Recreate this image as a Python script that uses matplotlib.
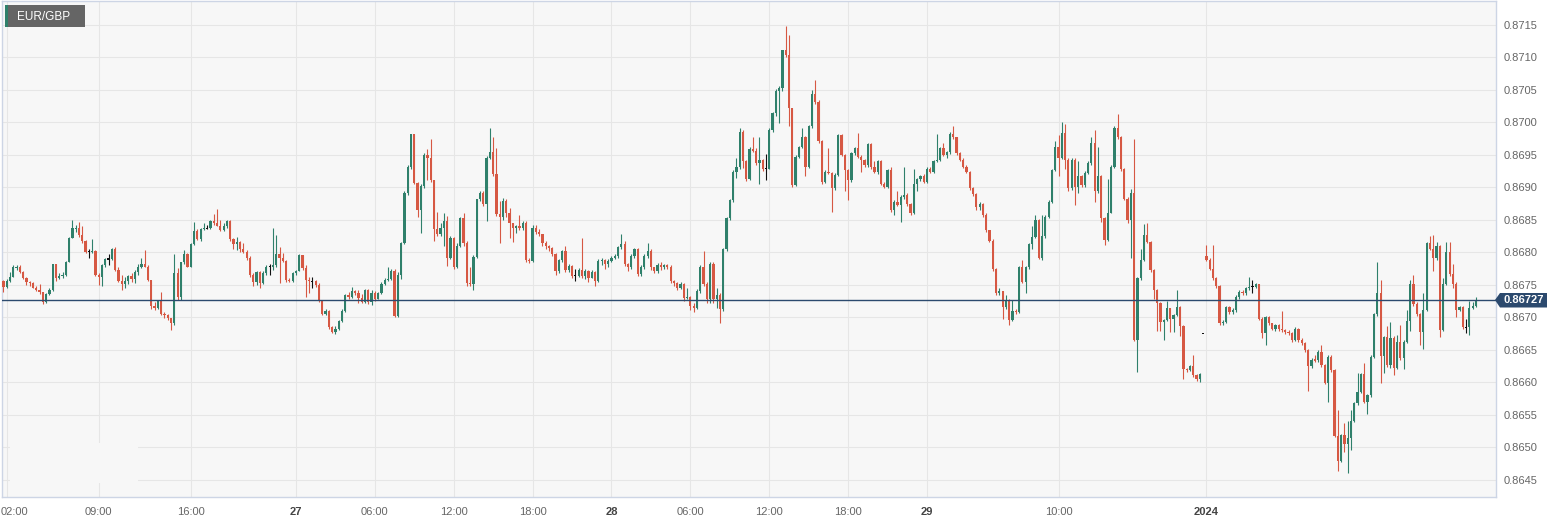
import matplotlib
matplotlib.use("Agg")
import matplotlib.pyplot as plt
from matplotlib.patches import Rectangle, Polygon
import numpy as np

plt.rcParams['font.family'] = ['Liberation Sans', 'DejaVu Sans']

symbol = "EUR/GBP"
last_price = 0.86727
first_open = 0.86756
session_opens = {365: 0.86676, 366: 0.86795}

closes = [
0.86747, 0.86756, 0.86763, 0.86777, 0.86778, 0.86770, 0.86761, 0.86754, 0.86753, 0.86746,
0.86742, 0.86739, 0.86724, 0.86736, 0.86742, 0.86782, 0.86760, 0.86764, 0.86766, 0.86786,
0.86823, 0.86837, 0.86838, 0.86827, 0.86817, 0.86801, 0.86801, 0.86802, 0.86765, 0.86763,
0.86780, 0.86790, 0.86790, 0.86806, 0.86773, 0.86756, 0.86751, 0.86756, 0.86764, 0.86759,
0.86770, 0.86778, 0.86782, 0.86778, 0.86758, 0.86717, 0.86714, 0.86725, 0.86706, 0.86704,
0.86699, 0.86691, 0.86769, 0.86732, 0.86785, 0.86797, 0.86778, 0.86813, 0.86833, 0.86821,
0.86836, 0.86837, 0.86837, 0.86849, 0.86845, 0.86841, 0.86835, 0.86840, 0.86849, 0.86821,
0.86813, 0.86816, 0.86806, 0.86801, 0.86791, 0.86765, 0.86755, 0.86770, 0.86753, 0.86768,
0.86778, 0.86778, 0.86781, 0.86797, 0.86791, 0.86787, 0.86758, 0.86756, 0.86768, 0.86772,
0.86796, 0.86776, 0.86758, 0.86756, 0.86756, 0.86750, 0.86727, 0.86706, 0.86710, 0.86686,
0.86678, 0.86682, 0.86694, 0.86710, 0.86734, 0.86732, 0.86740, 0.86737, 0.86730, 0.86724,
0.86742, 0.86724, 0.86737, 0.86728, 0.86737, 0.86751, 0.86757, 0.86759, 0.86772, 0.86702,
0.86765, 0.86815, 0.86892, 0.86932, 0.86982, 0.86907, 0.86865, 0.86903, 0.86950, 0.86946,
0.86911, 0.86836, 0.86828, 0.86838, 0.86848, 0.86792, 0.86822, 0.86778, 0.86810, 0.86853,
0.86814, 0.86753, 0.86751, 0.86793, 0.86882, 0.86892, 0.86874, 0.86946, 0.86955, 0.86920,
0.86859, 0.86854, 0.86879, 0.86861, 0.86846, 0.86838, 0.86841, 0.86838, 0.86846, 0.86789,
0.86787, 0.86838, 0.86831, 0.86828, 0.86815, 0.86810, 0.86807, 0.86797, 0.86772, 0.86788,
0.86802, 0.86773, 0.86779, 0.86764, 0.86764, 0.86773, 0.86764, 0.86772, 0.86761, 0.86770,
0.86756, 0.86787, 0.86788, 0.86782, 0.86787, 0.86792, 0.86795, 0.86808, 0.86813, 0.86782,
0.86777, 0.86795, 0.86805, 0.86767, 0.86777, 0.86795, 0.86802, 0.86777, 0.86772, 0.86781,
0.86777, 0.86781, 0.86778, 0.86756, 0.86753, 0.86746, 0.86751, 0.86730, 0.86731, 0.86718,
0.86715, 0.86741, 0.86778, 0.86751, 0.86728, 0.86783, 0.86728, 0.86735, 0.86713, 0.86805,
0.86853, 0.86880, 0.86924, 0.86931, 0.86986, 0.86941, 0.86913, 0.86959, 0.86956, 0.86937,
0.86942, 0.86929, 0.86929, 0.86989, 0.87014, 0.87049, 0.87053, 0.87111, 0.87104, 0.87023,
0.86904, 0.86947, 0.86962, 0.86978, 0.86932, 0.86994, 0.87044, 0.87032, 0.86971, 0.86909,
0.86924, 0.86922, 0.86899, 0.86919, 0.86981, 0.86950, 0.86927, 0.86912, 0.86953, 0.86960,
0.86947, 0.86942, 0.86935, 0.86967, 0.86932, 0.86924, 0.86940, 0.86906, 0.86901, 0.86927,
0.86865, 0.86878, 0.86873, 0.86886, 0.86889, 0.86875, 0.86860, 0.86906, 0.86913, 0.86917,
0.86909, 0.86929, 0.86924, 0.86940, 0.86943, 0.86960, 0.86950, 0.86954, 0.86983, 0.86977,
0.86953, 0.86943, 0.86932, 0.86924, 0.86899, 0.86890, 0.86870, 0.86875, 0.86858, 0.86834,
0.86818, 0.86774, 0.86737, 0.86740, 0.86716, 0.86727, 0.86696, 0.86710, 0.86709, 0.86777,
0.86755, 0.86777, 0.86813, 0.86824, 0.86850, 0.86792, 0.86825, 0.86855, 0.86878, 0.86927,
0.86963, 0.86946, 0.86984, 0.86943, 0.86899, 0.86943, 0.86901, 0.86917, 0.86904, 0.86923,
0.86937, 0.86968, 0.86894, 0.86917, 0.86853, 0.86819, 0.86861, 0.86932, 0.86991, 0.86978,
0.86928, 0.86883, 0.86850, 0.86891, 0.86666, 0.86760, 0.86789, 0.86827, 0.86816, 0.86773,
0.86742, 0.86723, 0.86693, 0.86696, 0.86714, 0.86698, 0.86704, 0.86716, 0.86687, 0.86621,
0.86619, 0.86625, 0.86611, 0.86606, 0.86613, 0.86676, 0.86789, 0.86775, 0.86760, 0.86749,
0.86692, 0.86693, 0.86716, 0.86709, 0.86712, 0.86732, 0.86739, 0.86738, 0.86745, 0.86747,
0.86747, 0.86751, 0.86698, 0.86676, 0.86700, 0.86691, 0.86683, 0.86688, 0.86683, 0.86680,
0.86678, 0.86676, 0.86666, 0.86683, 0.86666, 0.86660, 0.86650, 0.86625, 0.86635, 0.86634,
0.86647, 0.86627, 0.86599, 0.86639, 0.86619, 0.86517, 0.86479, 0.86519, 0.86506, 0.86514,
0.86541, 0.86568, 0.86586, 0.86613, 0.86570, 0.86580, 0.86639, 0.86705, 0.86738, 0.86640,
0.86670, 0.86627, 0.86668, 0.86623, 0.86662, 0.86637, 0.86662, 0.86695, 0.86752, 0.86720,
0.86705, 0.86678, 0.86712, 0.86814, 0.86806, 0.86791, 0.86810, 0.86681, 0.86752, 0.86801,
0.86767, 0.86752, 0.86712, 0.86716, 0.86685, 0.86685, 0.86715, 0.86717, 0.86727,
]

highs = [
0.86758, 0.86759, 0.86770, 0.86780, 0.86781, 0.86780, 0.86772, 0.86763, 0.86756, 0.86754,
0.86749, 0.86751, 0.86739, 0.86737, 0.86745, 0.86783, 0.86783, 0.86768, 0.86770, 0.86787,
0.86824, 0.86850, 0.86842, 0.86847, 0.86840, 0.86819, 0.86806, 0.86820, 0.86804, 0.86768,
0.86782, 0.86792, 0.86797, 0.86807, 0.86809, 0.86778, 0.86765, 0.86763, 0.86765, 0.86768,
0.86773, 0.86782, 0.86791, 0.86804, 0.86780, 0.86758, 0.86724, 0.86727, 0.86739, 0.86709,
0.86706, 0.86699, 0.86797, 0.86776, 0.86786, 0.86804, 0.86799, 0.86814, 0.86847, 0.86836,
0.86838, 0.86846, 0.86842, 0.86850, 0.86859, 0.86867, 0.86850, 0.86845, 0.86850, 0.86850,
0.86822, 0.86824, 0.86818, 0.86814, 0.86804, 0.86794, 0.86768, 0.86771, 0.86771, 0.86771,
0.86781, 0.86783, 0.86837, 0.86827, 0.86809, 0.86799, 0.86789, 0.86760, 0.86770, 0.86773,
0.86797, 0.86796, 0.86780, 0.86763, 0.86763, 0.86758, 0.86753, 0.86727, 0.86713, 0.86712,
0.86687, 0.86687, 0.86696, 0.86713, 0.86736, 0.86739, 0.86747, 0.86742, 0.86742, 0.86736,
0.86744, 0.86744, 0.86742, 0.86740, 0.86739, 0.86754, 0.86761, 0.86777, 0.86774, 0.86775,
0.86770, 0.86816, 0.86895, 0.86934, 0.86983, 0.86983, 0.86909, 0.86905, 0.86953, 0.86959,
0.86974, 0.86912, 0.86863, 0.86846, 0.86861, 0.86856, 0.86825, 0.86824, 0.86814, 0.86855,
0.86860, 0.86817, 0.86777, 0.86796, 0.86883, 0.86895, 0.86894, 0.86948, 0.86991, 0.86977,
0.86960, 0.86879, 0.86884, 0.86882, 0.86869, 0.86846, 0.86843, 0.86857, 0.86848, 0.86848,
0.86792, 0.86843, 0.86843, 0.86836, 0.86829, 0.86818, 0.86812, 0.86809, 0.86799, 0.86790,
0.86804, 0.86810, 0.86782, 0.86780, 0.86774, 0.86776, 0.86822, 0.86774, 0.86773, 0.86773,
0.86772, 0.86790, 0.86792, 0.86790, 0.86790, 0.86795, 0.86798, 0.86810, 0.86828, 0.86818,
0.86784, 0.86797, 0.86807, 0.86807, 0.86780, 0.86797, 0.86815, 0.86805, 0.86778, 0.86784,
0.86786, 0.86783, 0.86782, 0.86780, 0.86758, 0.86754, 0.86754, 0.86753, 0.86745, 0.86733,
0.86722, 0.86744, 0.86780, 0.86802, 0.86754, 0.86786, 0.86785, 0.86746, 0.86738, 0.86807,
0.86855, 0.86883, 0.86927, 0.86946, 0.86992, 0.86988, 0.86943, 0.86962, 0.86978, 0.86960,
0.86978, 0.86944, 0.86952, 0.86991, 0.87016, 0.87051, 0.87056, 0.87112, 0.87149, 0.87135,
0.87023, 0.86950, 0.86964, 0.86991, 0.86979, 0.86996, 0.87050, 0.87066, 0.87034, 0.86973,
0.86927, 0.86960, 0.86924, 0.86922, 0.86983, 0.86983, 0.86952, 0.86929, 0.86955, 0.86963,
0.86984, 0.86950, 0.86944, 0.86969, 0.86969, 0.86940, 0.86943, 0.86942, 0.86908, 0.86929,
0.86932, 0.86881, 0.86894, 0.86888, 0.86932, 0.86891, 0.86876, 0.86929, 0.86915, 0.86919,
0.86920, 0.86931, 0.86932, 0.86942, 0.86983, 0.86963, 0.86969, 0.86956, 0.86985, 0.86994,
0.86978, 0.86954, 0.86945, 0.86934, 0.86926, 0.86900, 0.86892, 0.86877, 0.86876, 0.86860,
0.86835, 0.86820, 0.86776, 0.86745, 0.86741, 0.86734, 0.86729, 0.86727, 0.86713, 0.86779,
0.86789, 0.86779, 0.86815, 0.86840, 0.86858, 0.86851, 0.86858, 0.86858, 0.86880, 0.86929,
0.86971, 0.86981, 0.87000, 0.86997, 0.86945, 0.86946, 0.86945, 0.86940, 0.86919, 0.86925,
0.86940, 0.86978, 0.86989, 0.86963, 0.86919, 0.86854, 0.86913, 0.86934, 0.86994, 0.87013,
0.86979, 0.86930, 0.86885, 0.86898, 0.86974, 0.86762, 0.86805, 0.86844, 0.86845, 0.86818,
0.86774, 0.86744, 0.86724, 0.86698, 0.86725, 0.86715, 0.86705, 0.86743, 0.86718, 0.86688,
0.86623, 0.86627, 0.86642, 0.86613, 0.86615, 0.86676, 0.86811, 0.86791, 0.86811, 0.86763,
0.86750, 0.86696, 0.86718, 0.86718, 0.86714, 0.86734, 0.86742, 0.86742, 0.86747, 0.86763,
0.86758, 0.86753, 0.86752, 0.86700, 0.86702, 0.86702, 0.86692, 0.86690, 0.86690, 0.86710,
0.86682, 0.86680, 0.86678, 0.86685, 0.86684, 0.86668, 0.86662, 0.86652, 0.86638, 0.86642,
0.86650, 0.86657, 0.86628, 0.86642, 0.86642, 0.86620, 0.86558, 0.86521, 0.86537, 0.86541,
0.86558, 0.86570, 0.86614, 0.86615, 0.86630, 0.86583, 0.86642, 0.86707, 0.86786, 0.86757,
0.86672, 0.86687, 0.86693, 0.86671, 0.86673, 0.86688, 0.86665, 0.86712, 0.86758, 0.86765,
0.86724, 0.86707, 0.86738, 0.86816, 0.86825, 0.86827, 0.86816, 0.86811, 0.86760, 0.86816,
0.86816, 0.86782, 0.86754, 0.86718, 0.86718, 0.86697, 0.86726, 0.86724, 0.86731,
]

lows = [
0.86739, 0.86746, 0.86755, 0.86762, 0.86773, 0.86768, 0.86759, 0.86750, 0.86749, 0.86745,
0.86740, 0.86736, 0.86721, 0.86723, 0.86735, 0.86741, 0.86756, 0.86759, 0.86761, 0.86764,
0.86785, 0.86823, 0.86832, 0.86824, 0.86814, 0.86799, 0.86791, 0.86799, 0.86764, 0.86750,
0.86749, 0.86778, 0.86781, 0.86788, 0.86772, 0.86754, 0.86742, 0.86745, 0.86751, 0.86755,
0.86753, 0.86766, 0.86776, 0.86777, 0.86756, 0.86713, 0.86712, 0.86713, 0.86704, 0.86699,
0.86696, 0.86681, 0.86689, 0.86727, 0.86727, 0.86783, 0.86777, 0.86777, 0.86812, 0.86819,
0.86817, 0.86835, 0.86836, 0.86836, 0.86843, 0.86840, 0.86833, 0.86833, 0.86837, 0.86818,
0.86805, 0.86804, 0.86801, 0.86799, 0.86788, 0.86763, 0.86749, 0.86750, 0.86746, 0.86751,
0.86765, 0.86765, 0.86773, 0.86777, 0.86753, 0.86785, 0.86754, 0.86754, 0.86755, 0.86766,
0.86771, 0.86773, 0.86732, 0.86737, 0.86746, 0.86747, 0.86724, 0.86704, 0.86704, 0.86683,
0.86676, 0.86674, 0.86681, 0.86693, 0.86709, 0.86729, 0.86730, 0.86735, 0.86723, 0.86722,
0.86722, 0.86720, 0.86719, 0.86725, 0.86728, 0.86736, 0.86750, 0.86756, 0.86758, 0.86700,
0.86700, 0.86759, 0.86813, 0.86889, 0.86929, 0.86905, 0.86854, 0.86830, 0.86899, 0.86912,
0.86908, 0.86818, 0.86825, 0.86825, 0.86810, 0.86779, 0.86790, 0.86775, 0.86776, 0.86808,
0.86810, 0.86749, 0.86748, 0.86742, 0.86791, 0.86879, 0.86872, 0.86848, 0.86944, 0.86918,
0.86856, 0.86815, 0.86850, 0.86854, 0.86822, 0.86816, 0.86830, 0.86835, 0.86835, 0.86786,
0.86784, 0.86785, 0.86828, 0.86825, 0.86810, 0.86805, 0.86802, 0.86794, 0.86766, 0.86769,
0.86785, 0.86770, 0.86770, 0.86760, 0.86756, 0.86763, 0.86761, 0.86759, 0.86754, 0.86760,
0.86749, 0.86754, 0.86780, 0.86774, 0.86778, 0.86785, 0.86790, 0.86792, 0.86805, 0.86779,
0.86772, 0.86775, 0.86792, 0.86764, 0.86764, 0.86774, 0.86792, 0.86773, 0.86768, 0.86769,
0.86773, 0.86774, 0.86775, 0.86753, 0.86749, 0.86743, 0.86744, 0.86725, 0.86728, 0.86712,
0.86708, 0.86713, 0.86738, 0.86748, 0.86722, 0.86723, 0.86722, 0.86715, 0.86692, 0.86710,
0.86802, 0.86850, 0.86878, 0.86915, 0.86928, 0.86930, 0.86910, 0.86911, 0.86954, 0.86934,
0.86906, 0.86926, 0.86912, 0.86928, 0.86986, 0.87010, 0.86999, 0.87049, 0.87100, 0.86994,
0.86901, 0.86902, 0.86945, 0.86960, 0.86917, 0.86930, 0.86992, 0.87029, 0.86968, 0.86906,
0.86907, 0.86920, 0.86863, 0.86896, 0.86917, 0.86948, 0.86894, 0.86881, 0.86909, 0.86950,
0.86945, 0.86924, 0.86932, 0.86932, 0.86929, 0.86922, 0.86921, 0.86904, 0.86899, 0.86899,
0.86863, 0.86858, 0.86871, 0.86847, 0.86883, 0.86872, 0.86858, 0.86859, 0.86894, 0.86910,
0.86907, 0.86907, 0.86922, 0.86922, 0.86939, 0.86941, 0.86948, 0.86946, 0.86952, 0.86974,
0.86950, 0.86941, 0.86930, 0.86922, 0.86896, 0.86887, 0.86866, 0.86865, 0.86855, 0.86831,
0.86816, 0.86772, 0.86734, 0.86734, 0.86697, 0.86713, 0.86688, 0.86694, 0.86706, 0.86707,
0.86753, 0.86737, 0.86775, 0.86806, 0.86823, 0.86790, 0.86789, 0.86823, 0.86853, 0.86876,
0.86925, 0.86917, 0.86944, 0.86929, 0.86894, 0.86896, 0.86873, 0.86891, 0.86901, 0.86901,
0.86920, 0.86935, 0.86878, 0.86891, 0.86847, 0.86811, 0.86818, 0.86860, 0.86930, 0.86975,
0.86925, 0.86880, 0.86845, 0.86791, 0.86664, 0.86616, 0.86757, 0.86787, 0.86814, 0.86770,
0.86729, 0.86679, 0.86679, 0.86666, 0.86694, 0.86678, 0.86678, 0.86702, 0.86671, 0.86606,
0.86616, 0.86617, 0.86609, 0.86603, 0.86600, 0.86676, 0.86787, 0.86773, 0.86757, 0.86746,
0.86688, 0.86689, 0.86692, 0.86706, 0.86706, 0.86709, 0.86729, 0.86735, 0.86735, 0.86743,
0.86738, 0.86745, 0.86696, 0.86668, 0.86657, 0.86688, 0.86680, 0.86679, 0.86679, 0.86678,
0.86675, 0.86673, 0.86663, 0.86664, 0.86663, 0.86657, 0.86647, 0.86587, 0.86623, 0.86631,
0.86632, 0.86624, 0.86597, 0.86570, 0.86616, 0.86516, 0.86464, 0.86477, 0.86493, 0.86460,
0.86496, 0.86539, 0.86565, 0.86584, 0.86568, 0.86552, 0.86578, 0.86637, 0.86703, 0.86599,
0.86614, 0.86624, 0.86622, 0.86611, 0.86620, 0.86634, 0.86620, 0.86660, 0.86679, 0.86718,
0.86703, 0.86657, 0.86651, 0.86710, 0.86804, 0.86772, 0.86789, 0.86670, 0.86679, 0.86750,
0.86764, 0.86745, 0.86701, 0.86710, 0.86682, 0.86676, 0.86673, 0.86713, 0.86716,
]

tick_positions = [1, 29, 57, 89, 113, 137, 161, 185, 209, 233, 257, 281, 321, 366]
tick_labels = ["02:00", "09:00", "16:00", "27", "06:00", "12:00", "18:00", "28",
               "06:00", "12:00", "18:00", "29", "10:00", "2024"]
bold_labels = {"27", "28", "29", "2024"}
y_ticks = [0.8645, 0.8650, 0.8655, 0.8660, 0.8665, 0.8670, 0.8675, 0.8680,
           0.8685, 0.8690, 0.8695, 0.8700, 0.8705, 0.8710, 0.8715]

GREEN = '#2f806b'
RED = '#d65843'
BLACK = '#111111'
NAVY = '#2c4a6e'
BG = '#f7f7f7'

W, H = 1566, 524
fig = plt.figure(figsize=(W / 100, H / 100), dpi=100)
fig.patch.set_facecolor('white')
ax = fig.add_axes([2 / W, 1 - 497 / H, 1493.5 / W, 496 / H])
ax.set_facecolor(BG)

opens = [first_open] + closes[:-1]
for k, v in session_opens.items():
    opens[k] = v

o = np.array(opens)
c = np.array(closes)
hi = np.array(highs)
lo = np.array(lows)
x = np.arange(len(c))

cols = np.where(c > o, GREEN, np.where(c < o, RED, BLACK))
body_h = np.abs(c - o)
min_h = 0.000017
bottoms = np.minimum(o, c)
small = body_h < min_h
bottoms = np.where(small, (o + c) / 2 - min_h / 2, bottoms)
body_h = np.where(small, min_h, body_h)

ax.vlines(x, lo, hi, colors=cols, lw=0.8, zorder=3)
ax.bar(x, body_h, bottom=bottoms, width=0.68, color=cols, linewidth=0, zorder=4)

ax.axhline(last_price, color=NAVY, lw=1.0, zorder=5)

ax.set_xlim(-0.43, 453.95)
ax.set_ylim(0.864238, 0.871869)

W_px_per_idx = 3.287

ax.set_xticks(tick_positions)
# first label would be clipped at the left edge: keep it inside, as the reference does
shown_labels = [""] + tick_labels[1:]
ax.set_xticklabels(shown_labels)
ax.tick_params(axis='x', length=0, pad=7.5, labelsize=8, labelcolor='#666666')
for lab in ax.get_xticklabels():
    if lab.get_text() in bold_labels:
        lab.set_fontweight('bold')
        lab.set_color('#444444')

def fx(px):
    return px / W

def fy(py):
    return 1 - py / H

fig.text(fx(0.5), fy(507.4), tick_labels[0], fontsize=8, color='#666666',
         ha='left', va='top')

ax.yaxis.tick_right()
ax.set_yticks(y_ticks)
ax.set_yticklabels([f"{v:.4f}" for v in y_ticks])
ax.tick_params(axis='y', length=0, pad=6, labelsize=8, labelcolor='#666666')

ax.grid(True, color='#e6e6e6', lw=0.8)
ax.set_axisbelow(True)

for s in ax.spines.values():
    s.set_color('#cdd5e5')
    s.set_linewidth(1.0)

# patch of plain background (no grid) near bottom-left, as in the reference
ax.add_patch(Rectangle((2.0, 0.864454), 38.9, 0.000615, facecolor=BG,
                       edgecolor='none', zorder=1.2))

# symbol label box
fig.add_artist(Rectangle((fx(5), fy(27)), 80 / W, 22 / H, transform=fig.transFigure,
                         facecolor='#656565', edgecolor='none', zorder=10))
fig.add_artist(Rectangle((fx(5), fy(27)), 2.5 / W, 22 / H, transform=fig.transFigure,
                         facecolor=GREEN, edgecolor='none', zorder=11))
fig.text(fx(17), fy(16.5), symbol, color='white', fontsize=8.5, va='center',
         ha='left', zorder=12)

# last price tag
tag = Polygon([(fx(1495), fy(300)), (fx(1500), fy(293)), (fx(1547), fy(293)),
               (fx(1547), fy(307.5)), (fx(1500), fy(307.5))], closed=True,
              transform=fig.transFigure, facecolor=NAVY, edgecolor='none', zorder=10)
fig.add_artist(tag)
fig.text(fx(1523.5), fy(300.3), f"{last_price:.5f}", color='white', fontsize=8,
         fontweight='bold', va='center', ha='center', zorder=12)

fig.savefig('out.png', dpi=100, facecolor='white')
